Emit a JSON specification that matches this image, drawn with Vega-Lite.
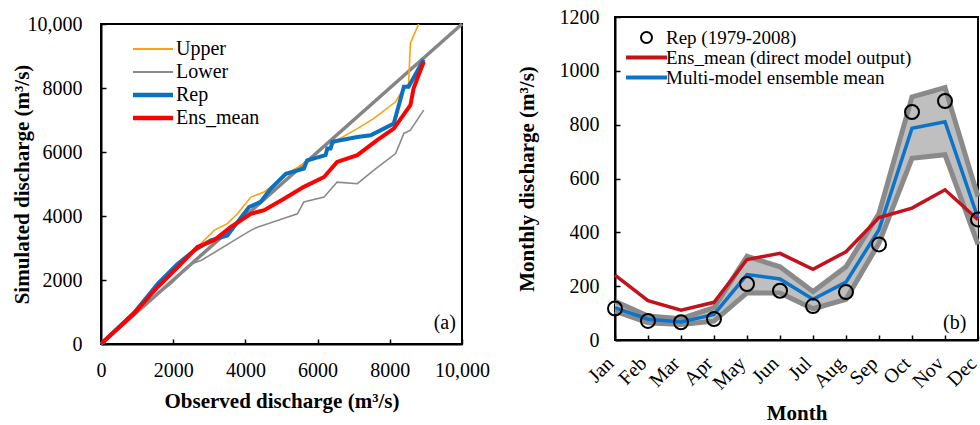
{
 "$schema": "https://vega.github.io/schema/vega-lite/v6.json",
 "padding": {"left": 10, "top": 6, "right": 0, "bottom": 0},
 "spacing": 24,
 "resolve": {"scale": {"color": "independent", "shape": "independent"}, "legend": {"color": "independent", "shape": "independent"}},
 "config": {
  "font": "Times New Roman, Liberation Serif, DejaVu Serif, serif",
  "view": {"stroke": "black", "strokeWidth": 2},
  "title": {"font": "Times New Roman, Liberation Serif, serif"},
  "text": {"font": "Times New Roman, Liberation Serif, serif"},
  "axis": {"grid": false, "labelOverlap": false, "labelFlush": false, "domainColor": "black", "domainWidth": 2, "tickColor": "black", "tickWidth": 1.5, "tickSize": -5, "labelFont": "Times New Roman, Liberation Serif, serif", "labelFontSize": 20, "labelColor": "black", "titleFont": "Times New Roman, Liberation Serif, serif", "titleFontSize": 21, "titleFontWeight": "bold", "titleColor": "black"},
  "legend": {"labelFont": "Times New Roman, Liberation Serif, serif", "labelFontSize": 20, "labelColor": "black", "labelLimit": 400}
 },
 "datasets": {
  "diag": [{"x": 0, "y": 0}, {"x": 10000, "y": 10000}],
  "thin": [
   {"series": "Lower", "i": 0, "x": 0, "y": 0}, {"series": "Lower", "i": 1, "x": 920, "y": 950}, {"series": "Lower", "i": 2, "x": 1570, "y": 1570}, {"series": "Lower", "i": 3, "x": 1940, "y": 1880}, {"series": "Lower", "i": 4, "x": 2490, "y": 2500}, {"series": "Lower", "i": 5, "x": 2770, "y": 2610}, {"series": "Lower", "i": 6, "x": 3230, "y": 2920}, {"series": "Lower", "i": 7, "x": 3690, "y": 3240}, {"series": "Lower", "i": 8, "x": 4150, "y": 3550}, {"series": "Lower", "i": 9, "x": 4330, "y": 3650}, {"series": "Lower", "i": 10, "x": 4890, "y": 3860}, {"series": "Lower", "i": 11, "x": 5440, "y": 4070}, {"series": "Lower", "i": 12, "x": 5620, "y": 4440}, {"series": "Lower", "i": 13, "x": 6180, "y": 4590}, {"series": "Lower", "i": 14, "x": 6540, "y": 5060}, {"series": "Lower", "i": 15, "x": 7100, "y": 5010}, {"series": "Lower", "i": 16, "x": 7560, "y": 5430}, {"series": "Lower", "i": 17, "x": 8160, "y": 5950}, {"series": "Lower", "i": 18, "x": 8390, "y": 6580}, {"series": "Lower", "i": 19, "x": 8570, "y": 6680}, {"series": "Lower", "i": 20, "x": 8940, "y": 7310},
   {"series": "Upper", "i": 0, "x": 0, "y": 0}, {"series": "Upper", "i": 1, "x": 920, "y": 1040}, {"series": "Upper", "i": 2, "x": 1570, "y": 1830}, {"series": "Upper", "i": 3, "x": 2210, "y": 2500}, {"series": "Upper", "i": 4, "x": 2490, "y": 2820}, {"series": "Upper", "i": 5, "x": 2670, "y": 3030}, {"series": "Upper", "i": 6, "x": 3040, "y": 3440}, {"series": "Upper", "i": 7, "x": 3130, "y": 3550}, {"series": "Upper", "i": 8, "x": 3500, "y": 3760}, {"series": "Upper", "i": 9, "x": 3780, "y": 4070}, {"series": "Upper", "i": 10, "x": 4150, "y": 4590}, {"series": "Upper", "i": 11, "x": 4520, "y": 4750}, {"series": "Upper", "i": 12, "x": 4890, "y": 5060}, {"series": "Upper", "i": 13, "x": 5160, "y": 5320}, {"series": "Upper", "i": 14, "x": 5620, "y": 5640}, {"series": "Upper", "i": 15, "x": 6180, "y": 5900}, {"series": "Upper", "i": 16, "x": 6540, "y": 6370}, {"series": "Upper", "i": 17, "x": 7100, "y": 6730}, {"series": "Upper", "i": 18, "x": 7560, "y": 7050}, {"series": "Upper", "i": 19, "x": 8160, "y": 7570}, {"series": "Upper", "i": 20, "x": 8300, "y": 7830}, {"series": "Upper", "i": 21, "x": 8520, "y": 8140}, {"series": "Upper", "i": 22, "x": 8570, "y": 9400}, {"series": "Upper", "i": 23, "x": 8800, "y": 10000}
  ],
  "thick": [
   {"series": "Rep", "i": 0, "x": 0, "y": 0}, {"series": "Rep", "i": 1, "x": 920, "y": 980}, {"series": "Rep", "i": 2, "x": 1570, "y": 1880}, {"series": "Rep", "i": 3, "x": 2120, "y": 2500}, {"series": "Rep", "i": 4, "x": 2580, "y": 2920}, {"series": "Rep", "i": 5, "x": 3040, "y": 3240}, {"series": "Rep", "i": 6, "x": 3500, "y": 3390}, {"series": "Rep", "i": 7, "x": 3780, "y": 3810}, {"series": "Rep", "i": 8, "x": 4100, "y": 4280}, {"series": "Rep", "i": 9, "x": 4420, "y": 4440}, {"series": "Rep", "i": 10, "x": 4700, "y": 4850}, {"series": "Rep", "i": 11, "x": 5120, "y": 5320}, {"series": "Rep", "i": 12, "x": 5620, "y": 5480}, {"series": "Rep", "i": 13, "x": 5710, "y": 5740}, {"series": "Rep", "i": 14, "x": 6220, "y": 5900}, {"series": "Rep", "i": 15, "x": 6270, "y": 6110}, {"series": "Rep", "i": 16, "x": 6360, "y": 6110}, {"series": "Rep", "i": 17, "x": 6410, "y": 6320}, {"series": "Rep", "i": 18, "x": 7100, "y": 6470}, {"series": "Rep", "i": 19, "x": 7470, "y": 6520}, {"series": "Rep", "i": 20, "x": 8110, "y": 6890}, {"series": "Rep", "i": 21, "x": 8390, "y": 8040}, {"series": "Rep", "i": 22, "x": 8520, "y": 8040}, {"series": "Rep", "i": 23, "x": 8940, "y": 8890},
   {"series": "Ens_mean", "i": 0, "x": 0, "y": 0}, {"series": "Ens_mean", "i": 1, "x": 920, "y": 960}, {"series": "Ens_mean", "i": 2, "x": 1570, "y": 1780}, {"series": "Ens_mean", "i": 3, "x": 2210, "y": 2500}, {"series": "Ens_mean", "i": 4, "x": 2670, "y": 3030}, {"series": "Ens_mean", "i": 5, "x": 3130, "y": 3240}, {"series": "Ens_mean", "i": 6, "x": 3590, "y": 3650}, {"series": "Ens_mean", "i": 7, "x": 4150, "y": 4070}, {"series": "Ens_mean", "i": 8, "x": 4520, "y": 4180}, {"series": "Ens_mean", "i": 9, "x": 5070, "y": 4540}, {"series": "Ens_mean", "i": 10, "x": 5620, "y": 4910}, {"series": "Ens_mean", "i": 11, "x": 6180, "y": 5220}, {"series": "Ens_mean", "i": 12, "x": 6540, "y": 5690}, {"series": "Ens_mean", "i": 13, "x": 7100, "y": 5900}, {"series": "Ens_mean", "i": 14, "x": 7650, "y": 6370}, {"series": "Ens_mean", "i": 15, "x": 8110, "y": 6730}, {"series": "Ens_mean", "i": 16, "x": 8570, "y": 7460}, {"series": "Ens_mean", "i": 17, "x": 8660, "y": 7990}, {"series": "Ens_mean", "i": 18, "x": 8940, "y": 8820}
  ],
  "band": [
   {"m": 1, "lo": 107, "hi": 144}, {"m": 2, "lo": 64, "hi": 89}, {"m": 3, "lo": 58, "hi": 79}, {"m": 4, "lo": 70, "hi": 120}, {"m": 5, "lo": 175, "hi": 311}, {"m": 6, "lo": 175, "hi": 272}, {"m": 7, "lo": 116, "hi": 180}, {"m": 8, "lo": 151, "hi": 272}, {"m": 9, "lo": 360, "hi": 470}, {"m": 10, "lo": 675, "hi": 903}, {"m": 11, "lo": 688, "hi": 938}, {"m": 12, "lo": 355, "hi": 532}
  ],
  "mon": [
   {"series": "Rep (1979-2008)", "m": 1, "value": 117}, {"series": "Rep (1979-2008)", "m": 2, "value": 71}, {"series": "Rep (1979-2008)", "m": 3, "value": 66}, {"series": "Rep (1979-2008)", "m": 4, "value": 78}, {"series": "Rep (1979-2008)", "m": 5, "value": 208}, {"series": "Rep (1979-2008)", "m": 6, "value": 183}, {"series": "Rep (1979-2008)", "m": 7, "value": 126}, {"series": "Rep (1979-2008)", "m": 8, "value": 178}, {"series": "Rep (1979-2008)", "m": 9, "value": 355}, {"series": "Rep (1979-2008)", "m": 10, "value": 847}, {"series": "Rep (1979-2008)", "m": 11, "value": 888}, {"series": "Rep (1979-2008)", "m": 12, "value": 448},
   {"series": "Multi-model ensemble mean", "m": 1, "value": 120}, {"series": "Multi-model ensemble mean", "m": 2, "value": 77}, {"series": "Multi-model ensemble mean", "m": 3, "value": 67}, {"series": "Multi-model ensemble mean", "m": 4, "value": 95}, {"series": "Multi-model ensemble mean", "m": 5, "value": 243}, {"series": "Multi-model ensemble mean", "m": 6, "value": 227}, {"series": "Multi-model ensemble mean", "m": 7, "value": 151}, {"series": "Multi-model ensemble mean", "m": 8, "value": 215}, {"series": "Multi-model ensemble mean", "m": 9, "value": 410}, {"series": "Multi-model ensemble mean", "m": 10, "value": 787}, {"series": "Multi-model ensemble mean", "m": 11, "value": 811}, {"series": "Multi-model ensemble mean", "m": 12, "value": 453},
   {"series": "Ens_mean (direct model output)", "m": 1, "value": 241}, {"series": "Ens_mean (direct model output)", "m": 2, "value": 146}, {"series": "Ens_mean (direct model output)", "m": 3, "value": 111}, {"series": "Ens_mean (direct model output)", "m": 4, "value": 140}, {"series": "Ens_mean (direct model output)", "m": 5, "value": 299}, {"series": "Ens_mean (direct model output)", "m": 6, "value": 322}, {"series": "Ens_mean (direct model output)", "m": 7, "value": 263}, {"series": "Ens_mean (direct model output)", "m": 8, "value": 328}, {"series": "Ens_mean (direct model output)", "m": 9, "value": 455}, {"series": "Ens_mean (direct model output)", "m": 10, "value": 490}, {"series": "Ens_mean (direct model output)", "m": 11, "value": 558}, {"series": "Ens_mean (direct model output)", "m": 12, "value": 447}
  ]
 },
 "hconcat": [
  {
   "spacing": 6,
   "bounds": "flush",
   "vconcat": [
    {"width": 361, "height": 1, "view": {"stroke": null}, "data": {"values": []}, "mark": "rect", "encoding": {}},
    {
     "width": 361, "height": 320,
     "encoding": {
      "x": {"field": "x", "type": "quantitative", "scale": {"domain": [0, 10000], "nice": false}, "title": "Observed discharge (m³/s)", "axis": {"values": [0, 2000, 4000, 6000, 8000, 10000], "labelExpr": "datum.value == 10000 ? '10,000' : datum.value + ''", "labelOverlap": false, "labelFlush": false, "labelPadding": 21, "titlePadding": 10}},
      "y": {"field": "y", "type": "quantitative", "scale": {"domain": [0, 10000], "nice": false}, "title": "Simulated discharge (m³/s)", "axis": {"values": [0, 2000, 4000, 6000, 8000, 10000], "labelExpr": "datum.value == 10000 ? '10,000' : datum.value + ''", "labelOverlap": false, "labelFlush": false, "labelPadding": 24, "minExtent": 61, "maxExtent": 61, "titlePadding": 8}}
     },
     "layer": [
      {
       "data": {"name": "diag"},
       "mark": {"type": "line", "color": "#858585", "strokeWidth": 3.5}
      },
      {
       "data": {"name": "thin"},
       "mark": {"type": "line", "clip": true, "strokeWidth": 1.6},
       "encoding": {
        "order": {"field": "i", "type": "quantitative"},
        "color": {"field": "series", "type": "nominal", "scale": {"domain": ["Upper", "Lower", "Rep", "Ens_mean"], "range": ["#FFA010", "#8A8A8A", "#0A70C0", "#FF0000"]},
         "legend": {"orient": "none", "legendX": 42, "legendY": 22, "title": null, "symbolType": "stroke", "symbolSize": 1600, "labelOffset": 13, "rowPadding": 3, "labelFontSize": 20,
          "encode": {"symbols": {"update": {"size": {"value": 1600}, "strokeWidth": {"signal": "datum.value === 'Rep' || datum.value === 'Ens_mean' ? 4.5 : 2"}}}}}}
       }
      },
      {
       "data": {"name": "thick"},
       "mark": {"type": "line", "clip": true, "strokeWidth": 4},
       "encoding": {
        "order": {"field": "i", "type": "quantitative"},
        "color": {"field": "series", "type": "nominal",
         "legend": {"orient": "none", "legendX": 42, "legendY": 22, "title": null, "symbolType": "stroke", "symbolSize": 1600, "labelOffset": 13, "rowPadding": 3, "labelFontSize": 20,
          "encode": {"symbols": {"update": {"size": {"value": 1600}, "strokeWidth": {"signal": "datum.value === 'Rep' || datum.value === 'Ens_mean' ? 4.5 : 2"}}}}}}
       }
      },
      {
       "data": {"values": [{"x": 9830, "y": 650, "t": "(a)"}]},
       "mark": {"type": "text", "align": "right", "baseline": "middle", "fontSize": 20, "color": "black"},
       "encoding": {"text": {"field": "t"}}
      }
     ]
    }
   ]
  },
  {
   "width": 363, "height": 323,
   "encoding": {
    "x": {"field": "m", "type": "quantitative", "scale": {"domain": [1, 12], "nice": false}, "title": "Month", "axis": {"values": [1, 2, 3, 4, 5, 6, 7, 8, 9, 10, 11, 12], "labelExpr": "['Jan','Feb','Mar','Apr','May','Jun','Jul','Aug','Sep','Oct','Nov','Dec'][datum.value - 1]", "labelOverlap": false, "labelSeparation": -40, "labelFlush": false, "labelAngle": -45, "labelAlign": "right", "labelBaseline": "middle", "labelPadding": 25, "labelOffset": -5, "titlePadding": 10}}
   },
   "layer": [
    {
     "data": {"name": "band"},
     "mark": {"type": "area", "color": "#BFBFBF", "opacity": 1},
     "encoding": {
      "y": {"field": "lo", "type": "quantitative", "scale": {"domain": [0, 1200], "nice": false}, "title": "Monthly discharge (m³/s)", "axis": {"values": [0, 200, 400, 600, 800, 1000, 1200], "labelExpr": "datum.value + ''", "labelOverlap": false, "labelFlush": false, "labelPadding": 21, "minExtent": 58, "maxExtent": 58, "titlePadding": 20}},
      "y2": {"field": "hi"}
     }
    },
    {
     "data": {"name": "band"},
     "mark": {"type": "line", "color": "#8A8A8A", "strokeWidth": 5},
     "encoding": {"y": {"field": "hi", "type": "quantitative"}}
    },
    {
     "data": {"name": "band"},
     "mark": {"type": "line", "color": "#8A8A8A", "strokeWidth": 5},
     "encoding": {"y": {"field": "lo", "type": "quantitative"}}
    },
    {
     "data": {"name": "mon"},
     "transform": [{"filter": "datum.series !== 'Rep (1979-2008)'"}],
     "mark": {"type": "line", "strokeWidth": 3.5},
     "encoding": {
      "y": {"field": "value", "type": "quantitative"},
      "color": {"field": "series", "type": "nominal", "scale": {"domain": ["Rep (1979-2008)", "Ens_mean (direct model output)", "Multi-model ensemble mean"], "range": ["black", "#C4121C", "#0B74C8"]},
       "legend": {"orient": "none", "legendX": 22, "legendY": 11, "title": null, "symbolSize": 1681, "labelOffset": 10, "rowPadding": 0, "labelFontSize": 19,
        "encode": {"symbols": {"update": {"size": {"signal": "datum.value === 'Rep (1979-2008)' ? 121 : 1681"}, "strokeWidth": {"signal": "datum.value === 'Rep (1979-2008)' ? 2 : 4"}, "fill": {"value": "transparent"}}}}}}
     }
    },
    {
     "data": {"name": "mon"},
     "transform": [{"filter": "datum.series === 'Rep (1979-2008)'"}],
     "mark": {"type": "point", "filled": false, "size": 196, "strokeWidth": 2, "opacity": 1},
     "encoding": {
      "y": {"field": "value", "type": "quantitative"},
      "color": {"field": "series", "type": "nominal",
       "legend": {"orient": "none", "legendX": 22, "legendY": 11, "title": null, "symbolSize": 1681, "labelOffset": 10, "rowPadding": 0, "labelFontSize": 19,
        "encode": {"symbols": {"update": {"size": {"signal": "datum.value === 'Rep (1979-2008)' ? 121 : 1681"}, "strokeWidth": {"signal": "datum.value === 'Rep (1979-2008)' ? 2 : 4"}, "fill": {"value": "transparent"}}}}}},
      "shape": {"field": "series", "type": "nominal", "scale": {"domain": ["Rep (1979-2008)", "Ens_mean (direct model output)", "Multi-model ensemble mean"], "range": ["circle", "stroke", "stroke"]},
       "legend": {"orient": "none", "legendX": 22, "legendY": 11, "title": null, "symbolSize": 1681, "labelOffset": 10, "rowPadding": 0, "labelFontSize": 19,
        "encode": {"symbols": {"update": {"size": {"signal": "datum.value === 'Rep (1979-2008)' ? 121 : 1681"}, "strokeWidth": {"signal": "datum.value === 'Rep (1979-2008)' ? 2 : 4"}, "fill": {"value": "transparent"}}}}}}
     }
    },
    {
     "data": {"values": [{"m": 11.65, "value": 63, "t": "(b)"}]},
     "mark": {"type": "text", "align": "right", "baseline": "middle", "fontSize": 20, "color": "black"},
     "encoding": {"y": {"field": "value", "type": "quantitative"}, "text": {"field": "t"}}
    }
   ]
  }
 ]
}
